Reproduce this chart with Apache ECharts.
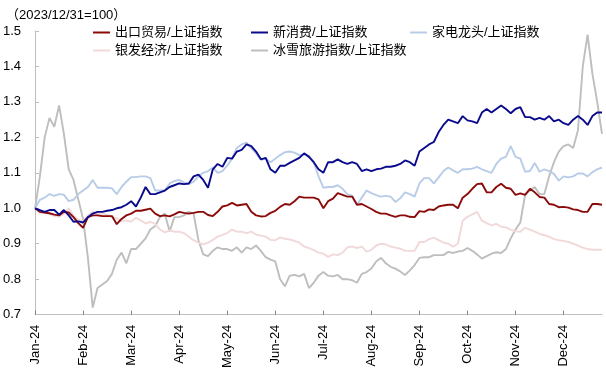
<!DOCTYPE html>
<html>
<head>
<meta charset="utf-8">
<script src="https://cdn.jsdelivr.net/npm/echarts@6/dist/echarts.min.js"></script>
<style>
html,body{margin:0;padding:0;background:#fff;}
#chart{width:606px;height:371px;}
</style>
</head>
<body>
<div id="chart"></div>
<script>
const months = ['Jan-24','Feb-24','Mar-24','Apr-24','May-24','Jun-24','Jul-24','Aug-24','Sep-24','Oct-24','Nov-24','Dec-24'];
const yTicks = [0.7,0.8,0.9,1.0,1.1,1.2,1.3,1.4,1.5];
const names = ['出口贸易/上证指数','新消费/上证指数','家电龙头/上证指数','银发经济/上证指数','冰雪旅游指数/上证指数'];

const exportTrade = [1.00,0.99,0.988,0.986,0.982,0.98,0.99,0.988,0.975,0.958,
0.945,0.975,0.98,0.98,0.978,0.978,0.978,0.955,0.97,0.98,
0.985,0.993,0.993,0.996,0.999,0.985,0.978,0.98,0.977,0.983,
0.99,0.987,0.985,0.987,0.99,0.99,0.981,0.978,0.99,1.005,
1.008,1.015,1.008,1.01,1.012,0.99,0.98,0.977,0.978,0.987,
0.993,1.004,1.012,1.01,1.02,1.033,1.03,1.03,1.03,1.025,
1.00,1.02,1.027,1.043,1.038,1.033,1.033,1.01,1.012,1.005,
0.998,0.99,0.985,0.985,0.98,0.976,0.98,0.98,0.976,0.975,
0.992,0.99,0.997,0.995,1.005,1.008,1.01,1.01,1.0,1.03,
1.04,1.055,1.068,1.07,1.045,1.045,1.06,1.069,1.058,1.055,
1.038,1.042,1.038,1.055,1.045,1.032,1.03,1.012,1.01,1.003,
1.004,1.002,0.997,0.995,0.99,0.99,1.012,1.012,1.01];

const newConsumption = [1.00,0.995,0.99,0.995,0.995,0.982,0.995,0.98,0.962,0.963,
0.96,0.975,0.985,0.99,0.99,0.993,0.995,1.00,1.003,1.01,
1.02,1.005,1.03,1.06,1.04,1.04,1.045,1.05,1.06,1.065,
1.07,1.068,1.07,1.09,1.095,1.08,1.058,1.11,1.125,1.117,
1.142,1.14,1.16,1.165,1.18,1.175,1.16,1.138,1.142,1.11,
1.10,1.12,1.12,1.128,1.135,1.142,1.155,1.145,1.13,1.11,
1.10,1.13,1.13,1.138,1.13,1.125,1.13,1.125,1.105,1.11,
1.105,1.11,1.112,1.117,1.117,1.12,1.125,1.135,1.13,1.12,
1.16,1.17,1.18,1.187,1.215,1.235,1.25,1.245,1.24,1.26,
1.248,1.245,1.24,1.27,1.28,1.27,1.28,1.29,1.28,1.268,
1.28,1.285,1.257,1.257,1.25,1.255,1.25,1.26,1.245,1.25,
1.24,1.235,1.25,1.26,1.25,1.235,1.26,1.27,1.27];

const appliance = [1.00,1.024,1.03,1.04,1.035,1.04,1.038,1.02,1.024,1.04,
1.05,1.06,1.08,1.058,1.058,1.058,1.056,1.04,1.06,1.075,
1.088,1.088,1.09,1.09,1.085,1.05,1.05,1.05,1.07,1.077,
1.08,1.073,1.068,1.075,1.09,1.10,1.105,1.115,1.10,1.105,
1.12,1.14,1.17,1.18,1.185,1.17,1.155,1.137,1.14,1.13,
1.14,1.15,1.158,1.16,1.157,1.15,1.152,1.148,1.13,1.09,
1.058,1.06,1.06,1.065,1.055,1.04,1.035,1.01,1.03,1.05,
1.043,1.037,1.033,1.035,1.033,1.018,1.028,1.045,1.04,1.033,
1.07,1.085,1.085,1.07,1.087,1.105,1.115,1.107,1.10,1.11,
1.11,1.112,1.117,1.11,1.105,1.10,1.125,1.14,1.145,1.175,
1.145,1.14,1.103,1.105,1.128,1.103,1.11,1.105,1.097,1.078,
1.09,1.087,1.09,1.098,1.098,1.09,1.102,1.11,1.115];

const silver = [1.00,0.987,0.987,0.984,0.978,0.977,0.984,1.0,0.98,0.968,
0.963,0.98,0.99,0.984,0.985,0.982,0.975,0.972,0.963,0.966,
0.962,0.973,0.966,0.957,0.962,0.956,0.94,0.932,0.938,0.934,
0.934,0.93,0.92,0.91,0.903,0.898,0.903,0.911,0.92,0.925,
0.93,0.94,0.934,0.934,0.93,0.934,0.926,0.923,0.92,0.911,
0.91,0.918,0.914,0.912,0.908,0.903,0.892,0.888,0.882,0.875,
0.872,0.863,0.87,0.868,0.875,0.89,0.892,0.888,0.892,0.878,
0.883,0.895,0.90,0.898,0.892,0.889,0.886,0.88,0.88,0.88,
0.905,0.905,0.913,0.917,0.91,0.903,0.90,0.892,0.90,0.965,
0.976,0.983,0.99,0.965,0.958,0.952,0.956,0.948,0.946,0.94,
0.935,0.934,0.945,0.94,0.934,0.928,0.924,0.92,0.913,0.91,
0.908,0.905,0.90,0.895,0.889,0.885,0.883,0.883,0.883];

const iceSnow = [1.00,1.09,1.20,1.255,1.23,1.29,1.21,1.11,1.08,1.025,
0.97,0.86,0.72,0.775,0.785,0.795,0.815,0.855,0.875,0.845,
0.885,0.885,0.90,0.915,0.94,0.95,0.975,0.985,0.935,0.975,
0.975,0.98,0.99,0.985,0.91,0.87,0.865,0.88,0.89,0.885,
0.885,0.88,0.89,0.875,0.89,0.885,0.895,0.88,0.862,0.855,
0.85,0.80,0.78,0.81,0.812,0.808,0.815,0.775,0.79,0.81,
0.82,0.81,0.808,0.812,0.80,0.80,0.797,0.79,0.815,0.82,
0.83,0.85,0.86,0.845,0.835,0.83,0.822,0.812,0.825,0.84,
0.86,0.862,0.862,0.868,0.868,0.868,0.877,0.874,0.878,0.88,
0.888,0.88,0.87,0.858,0.865,0.872,0.876,0.874,0.885,0.915,
0.94,0.96,1.038,1.05,1.06,1.04,1.04,1.09,1.13,1.16,
1.175,1.18,1.17,1.22,1.40,1.49,1.38,1.30,1.21];

const colors = {
  exportTrade:'#8B0A0A',
  newConsumption:'#0A0A8C',
  appliance:'#B8CCE8',
  silver:'#F2D9D9',
  iceSnow:'#BEBEBE'
};

const N = exportTrade.length;
const labelEvery = 10;
const categories = Array.from({length:N}, (_, i) => months[Math.floor(i/labelEvery)]);

const font = '"Liberation Sans", "Noto Sans CJK SC", Arial, sans-serif';
const chart = echarts.init(document.getElementById('chart'), null, {renderer:'canvas'});

function mk(name, data, color, z){
  return {name, type:'line', data, symbol:'none', showSymbol:false, smooth:false, z,
    lineStyle:{color, width:1.9}, itemStyle:{color}, emphasis:{disabled:true}};
}

const legendBase = {orient:'vertical', top:20, itemGap:3, icon:'rect', itemWidth:17, itemHeight:2,
  textStyle:{fontSize:13, lineHeight:15, color:'#000', fontFamily:font}, selectedMode:false};

chart.setOption({
  animation:false,
  backgroundColor:'#fff',
  title:{text:'（2023/12/31=100）', left:1, top:4,
    textStyle:{fontSize:13, fontWeight:'normal', color:'#000', fontFamily:font}},
  legend:[
    Object.assign({left:88, data:[names[0], names[3]]}, legendBase),
    Object.assign({left:246, data:[names[1], names[4]]}, legendBase),
    Object.assign({left:405, data:[names[2]]}, legendBase)
  ],
  grid:{left:35, right:4, top:31, bottom:56, containLabel:false},
  xAxis:{type:'category', data:categories, boundaryGap:false,
    axisLine:{lineStyle:{color:'#BFBFBF', width:1}},
    axisTick:{show:true, inside:true, length:4, interval:labelEvery-1, lineStyle:{color:'#7F7F7F'}},
    axisLabel:{interval:labelEvery-1, rotate:90, margin:10, fontSize:13, color:'#000', fontFamily:font},
    splitLine:{show:false}},
  yAxis:{type:'value', min:yTicks[0], max:yTicks[yTicks.length-1], interval:0.1,
    axisLine:{show:true, lineStyle:{color:'#BFBFBF', width:1}},
    axisTick:{show:true, inside:true, length:4, lineStyle:{color:'#BFBFBF'}},
    axisLabel:{margin:14, fontSize:13, color:'#000', fontFamily:font, formatter:v => v.toFixed(1)},
    splitLine:{show:false}},
  series:[
    mk(names[4], iceSnow, colors.iceSnow, 1),
    mk(names[3], silver, colors.silver, 2),
    mk(names[2], appliance, colors.appliance, 3),
    mk(names[0], exportTrade, colors.exportTrade, 4),
    mk(names[1], newConsumption, colors.newConsumption, 5)
  ]
});
</script>
</body>
</html>
